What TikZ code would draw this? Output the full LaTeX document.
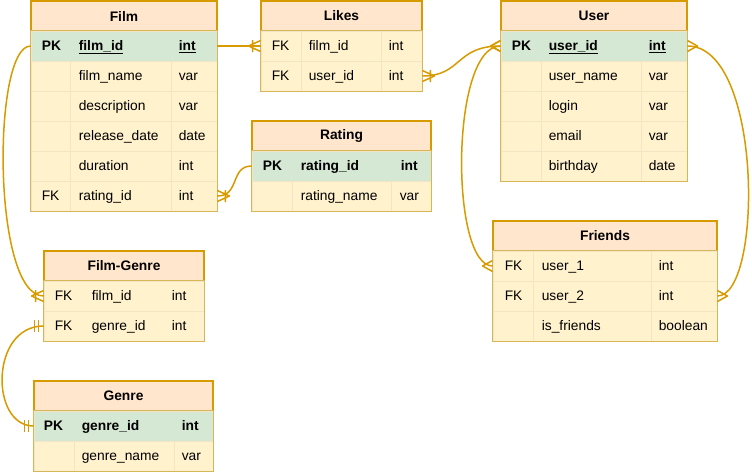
\documentclass[tikz,border=0pt]{standalone}
\usepackage{fontspec}
\setmainfont{Liberation Sans}[Scale=1.38]
\usetikzlibrary{arrows.meta, calc}
\definecolor{titlefill}{HTML}{FFE6CC}
\definecolor{titledraw}{HTML}{D79B00}
\definecolor{pkfill}{HTML}{D5E8D4}
\definecolor{rowfill}{HTML}{FFF2CC}
\definecolor{rowdraw}{HTML}{D6B656}
\definecolor{linkcolor}{HTML}{D79B00}
% crow's foot ends
\pgfdeclarearrow{
  name=ERmany,
  setup code={\pgfarrowssettipend{0pt}\pgfarrowssetlineend{0pt}\pgfarrowssetbackend{-10pt}},
  drawing code={\pgfsetroundjoin
    \pgfpathmoveto{\pgfpoint{0pt}{5.5pt}}
    \pgfpathlineto{\pgfpoint{-10pt}{0pt}}
    \pgfpathlineto{\pgfpoint{0pt}{-5.5pt}}
    \pgfusepathqstroke},
  defaults={}
}
\pgfdeclarearrow{
  name=ERoneMany,
  setup code={\pgfarrowssettipend{0pt}\pgfarrowssetlineend{0pt}\pgfarrowssetbackend{-12pt}},
  drawing code={\pgfsetroundjoin
    \pgfpathmoveto{\pgfpoint{0pt}{5.5pt}}
    \pgfpathlineto{\pgfpoint{-12pt}{0pt}}
    \pgfpathlineto{\pgfpoint{0pt}{-5.5pt}}
    \pgfpathmoveto{\pgfpoint{-8pt}{6pt}}
    \pgfpathlineto{\pgfpoint{-8pt}{-6pt}}
    \pgfusepathqstroke},
  defaults={}
}
\pgfdeclarearrow{
  name=ERmandOne,
  setup code={\pgfarrowssettipend{0pt}\pgfarrowssetlineend{0pt}\pgfarrowssetbackend{-10pt}},
  drawing code={
    \pgfpathmoveto{\pgfpoint{-5pt}{6pt}}
    \pgfpathlineto{\pgfpoint{-5pt}{-6pt}}
    \pgfpathmoveto{\pgfpoint{-9pt}{6pt}}
    \pgfpathlineto{\pgfpoint{-9pt}{-6pt}}
    \pgfusepathqstroke},
  defaults={}
}
\tikzset{
title/.style={rectangle, fill=titlefill, draw=titledraw, line width=1.5pt, minimum height=30, inner sep=0, font=\bfseries},
row/.style={rectangle, fill=rowfill, draw=rowdraw!35, line width=0.8pt, minimum height=30, inner sep=0},
pkrow/.style={row, fill=pkfill},
frame/.style={draw=rowdraw, line width=1.5pt},
divider/.style={draw=rowdraw!35, line width=0.8pt},
cell/.style={anchor=west, inner sep=0, text height=9pt, text depth=0pt},
link/.style={draw=linkcolor, line width=1.5pt}
}
\begin{document}
\begin{tikzpicture}[x=1pt, y=-1pt]
\useasboundingbox (0,0) rectangle (752,472);

%Film
\node[title, minimum width=186] (film) at (124,16) {Film};
\node[pkrow, minimum width=186] (film-1) at (124,46) {};
\node[cell, font=\bfseries] (film-k1) at ([xshift=11]film-1.west) {PK};
\node[cell, font=\bfseries] (film-n1) at ([xshift=48]film-1.west) {\underline{film\_id}};
\node[cell, font=\bfseries] (film-t1) at ([xshift=148]film-1.west) {\underline{int}};
\foreach \k/\n/\t [count=\i from 2] in {/film\_name/var, /description/var, /release\_date/date, /duration/int, FK/rating\_id/int} {
  \node[row, minimum width=186] (film-\i) at (124,16+30*\i) {};
  \node[cell] (film-k\i) at ([xshift=11]film-\i.west) {\k};
  \node[cell] (film-n\i) at ([xshift=48]film-\i.west) {\n};
  \node[cell] (film-t\i) at ([xshift=148]film-\i.west) {\t};
}
\draw[divider] ([xshift=40]film-2.north west) -- ([xshift=40]film-6.south west);
\draw[divider] ([xshift=141]film-2.north west) -- ([xshift=141]film-6.south west);
\draw[frame] (film-1.north west) rectangle (film-6.south east);

%Likes
\node[title, minimum width=161] (likes) at (341.5,16) {Likes};
\foreach \k/\n/\t [count=\i] in {FK/film\_id/int, FK/user\_id/int} {
  \node[row, minimum width=161] (likes-\i) at (341.5,16+30*\i) {};
  \node[cell] (likes-k\i) at ([xshift=11]likes-\i.west) {\k};
  \node[cell] (likes-n\i) at ([xshift=48]likes-\i.west) {\n};
  \node[cell] (likes-t\i) at ([xshift=128]likes-\i.west) {\t};
}
\draw[divider] ([xshift=41]likes-1.north west) -- ([xshift=41]likes-2.south west);
\draw[divider] ([xshift=121]likes-1.north west) -- ([xshift=121]likes-2.south west);
\draw[frame] (likes-1.north west) rectangle (likes-2.south east);

%Rating
\node[title, minimum width=179] (rating) at (341.5,136) {Rating};
\node[pkrow, minimum width=179] (rating-1) at (341.5,166) {};
\node[cell, font=\bfseries] (rating-k1) at ([xshift=11]rating-1.west) {PK};
\node[cell, font=\bfseries] (rating-n1) at ([xshift=49]rating-1.west) {rating\_id};
\node[cell, font=\bfseries] (rating-t1) at ([xshift=149]rating-1.west) {int};
\node[row, minimum width=179] (rating-2) at (341.5,196) {};
\node[cell] (rating-n2) at ([xshift=49]rating-2.west) {rating\_name};
\node[cell] (rating-t2) at ([xshift=148]rating-2.west) {var};
\draw[divider] ([xshift=41]rating-2.north west) -- ([xshift=41]rating-2.south west);
\draw[divider] ([xshift=140]rating-2.north west) -- ([xshift=140]rating-2.south west);
\draw[frame] (rating-1.north west) rectangle (rating-2.south east);

%User
\node[title, minimum width=186] (user) at (594,16) {User};
\node[pkrow, minimum width=186] (user-1) at (594,46) {};
\node[cell, font=\bfseries] (user-k1) at ([xshift=11]user-1.west) {PK};
\node[cell, font=\bfseries] (user-n1) at ([xshift=48]user-1.west) {\underline{user\_id}};
\node[cell, font=\bfseries] (user-t1) at ([xshift=148]user-1.west) {\underline{int}};
\foreach \n/\t [count=\i from 2] in {user\_name/var, login/var, email/var, birthday/date} {
  \node[row, minimum width=186] (user-\i) at (594,16+30*\i) {};
  \node[cell] (user-n\i) at ([xshift=48]user-\i.west) {\n};
  \node[cell] (user-t\i) at ([xshift=148]user-\i.west) {\t};
}
\draw[divider] ([xshift=41]user-2.north west) -- ([xshift=41]user-5.south west);
\draw[divider] ([xshift=141]user-2.north west) -- ([xshift=141]user-5.south west);
\draw[frame] (user-1.north west) rectangle (user-5.south east);

%Friends
\node[title, minimum width=224] (friends) at (605,236) {Friends};
\foreach \k/\n/\t [count=\i] in {FK/user\_1/int, FK/user\_2/int, /is\_friends/boolean} {
  \node[row, minimum width=224] (friends-\i) at (605,236+30*\i) {};
  \node[cell] (friends-k\i) at ([xshift=12]friends-\i.west) {\k};
  \node[cell] (friends-n\i) at ([xshift=49]friends-\i.west) {\n};
  \node[cell] (friends-t\i) at ([xshift=166]friends-\i.west) {\t};
}
\draw[divider] ([xshift=41]friends-1.north west) -- ([xshift=41]friends-3.south west);
\draw[divider] ([xshift=159]friends-1.north west) -- ([xshift=159]friends-3.south west);
\draw[frame] (friends-1.north west) rectangle (friends-3.south east);

%Film-Genre
\node[title, minimum width=160] (filmgenre) at (124,266) {Film-Genre};
\foreach \k/\n/\t [count=\i] in {FK/film\_id/int, FK/genre\_id/int} {
  \node[row, minimum width=160] (filmgenre-\i) at (124,266+30*\i) {};
  \node[cell] (filmgenre-k\i) at ([xshift=11]filmgenre-\i.west) {\k};
  \node[cell] (filmgenre-n\i) at ([xshift=48]filmgenre-\i.west) {\n};
  \node[cell] (filmgenre-t\i) at ([xshift=128]filmgenre-\i.west) {\t};
}
\draw[frame] (filmgenre-1.north west) rectangle (filmgenre-2.south east);

%Genre
\node[title, minimum width=179] (genre) at (123.5,396) {Genre};
\node[pkrow, minimum width=179] (genre-1) at (123.5,426) {};
\node[cell, font=\bfseries] (genre-k1) at ([xshift=10]genre-1.west) {PK};
\node[cell, font=\bfseries] (genre-n1) at ([xshift=48]genre-1.west) {genre\_id};
\node[cell, font=\bfseries] (genre-t1) at ([xshift=148]genre-1.west) {int};
\node[row, minimum width=179] (genre-2) at (123.5,456) {};
\node[cell] (genre-n2) at ([xshift=48]genre-2.west) {genre\_name};
\node[cell] (genre-t2) at ([xshift=148]genre-2.west) {var};
\draw[divider] ([xshift=41]genre-2.north west) -- ([xshift=41]genre-2.south west);
\draw[divider] ([xshift=141]genre-2.north west) -- ([xshift=141]genre-2.south west);
\draw[frame] (genre-1.north west) rectangle (genre-2.south east);

%links
\draw[link, -ERoneMany] (film-1.east) -- (likes-1.west);
\draw[link, ERoneMany-ERmany] (likes-2.east) .. controls (462,76) and (455,46) .. (user-1.west);
\draw[link, -ERoneMany] (rating-1.west) .. controls (230,166) and (240,196) .. (film-6.east);
\draw[link, ERmany-ERmany] (user-1.west) .. controls (450,46) and (450,266) .. (friends-1.west);
\draw[link, ERmany-ERmany] (user-1.east) .. controls (763,46) and (763,296) .. (friends-2.east);
\draw[link, -ERoneMany] (film-1.west) .. controls (-8,46) and (-8,296) .. (filmgenre-1.west);
\draw[link, ERmandOne-ERmandOne] (filmgenre-2.west) .. controls (-10,326) and (-10,426) .. (genre-1.west);
\end{tikzpicture}
\end{document}
